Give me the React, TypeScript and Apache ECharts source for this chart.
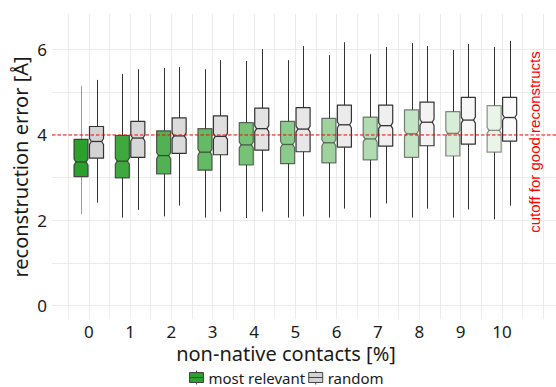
import React, { useEffect, useRef } from "react";
import * as echarts from "echarts";

// non-native contacts [%]
const categories = [0, 1, 2, 3, 4, 5, 6, 7, 8, 9, 10];

// [lower whisker, Q1, median, Q3, upper whisker]
const mostRelevant = [
  [2.14, 3.02, 3.36, 3.89, 5.14],
  [2.06, 2.99, 3.38, 3.98, 5.42],
  [2.09, 3.08, 3.51, 4.09, 5.56],
  [2.06, 3.17, 3.59, 4.14, 5.53],
  [2.05, 3.29, 3.76, 4.28, 5.72],
  [2.06, 3.32, 3.77, 4.31, 5.74],
  [2.06, 3.34, 3.81, 4.38, 5.86],
  [2.06, 3.41, 3.9, 4.41, 5.88],
  [2.06, 3.47, 4.02, 4.58, 6.14],
  [2.06, 3.5, 4.03, 4.54, 5.98],
  [2.02, 3.59, 4.1, 4.68, 6.05],
];

const random = [
  [2.41, 3.45, 3.84, 4.19, 5.28],
  [2.24, 3.47, 3.92, 4.31, 5.53],
  [2.34, 3.56, 3.97, 4.39, 5.58],
  [2.2, 3.53, 3.96, 4.44, 5.74],
  [2.2, 3.64, 4.14, 4.62, 6.0],
  [2.09, 3.6, 4.13, 4.63, 6.07],
  [2.27, 3.71, 4.23, 4.69, 6.16],
  [2.39, 3.73, 4.21, 4.69, 6.05],
  [2.27, 3.74, 4.29, 4.76, 6.07],
  [2.25, 3.78, 4.34, 4.87, 6.12],
  [2.34, 3.85, 4.4, 4.87, 6.19],
];

const cutoff = 4;
const yTickLabels = [0, 2, 4, 6];
const yGridValues = [0, 1, 2, 3, 4, 5, 6];
const seriesNames = ["most relevant", "random"];
const cutoffLabel = "cutoff for good reconstructs";
const xTitle = "non-native contacts [%]";
const yTitle = "reconstruction error [Å]";

const GREEN = [44, 160, 44];
const GRAY = [211, 211, 211];
const FONT = '"Noto Sans", sans-serif';

export default function App() {
  const ref = useRef<HTMLDivElement>(null);

  useEffect(() => {
    document.body.style.margin = "0";
    const chart = echarts.init(ref.current!, null, { renderer: "svg" });

    const xGrid: number[] = [];
    for (let k = -1; k <= 22; k++) xGrid.push(k / 2);

    const makeRender = (side: number, base: number[], isGreen: boolean) =>
      (params: any, api: any) => {
        const i = params.dataIndex;
        const c = api.value(0) + side * 0.1875;
        const lo = api.value(1);
        const q1 = api.value(2);
        const med = api.value(3);
        const q3 = api.value(4);
        const hi = api.value(5);
        const xl = api.coord([c - 0.17, med])[0];
        const xr = api.coord([c + 0.17, med])[0];
        const xc = Math.round(api.coord([c, med])[0]) + 0.5;
        const y = (v: number) => api.coord([c, v])[1];
        const yMed = y(med);
        const yN1 = y(med + 0.07);
        const yN2 = y(med - 0.07);
        const yQ1 = y(q1);
        const yQ3 = y(q3);
        const ins = 1.8;
        const alpha = 1 - 0.09 * i;
        const fill = `rgba(${base[0]},${base[1]},${base[2]},${alpha})`;
        const stroke = isGreen
          ? `rgba(51,51,51,${0.85 - 0.03 * i})`
          : "#333333";
        const whisk = isGreen && i === 0 ? "#9a9a9a" : "#333333";
        return {
          type: "group",
          children: [
            {
              type: "line",
              shape: { x1: xc, y1: y(hi), x2: xc, y2: yQ3 },
              style: { stroke: whisk, lineWidth: 1 },
            },
            {
              type: "line",
              shape: { x1: xc, y1: yQ1, x2: xc, y2: y(lo) },
              style: { stroke: whisk, lineWidth: 1 },
            },
            {
              type: "polygon",
              shape: {
                points: [
                  [xl, yQ3],
                  [xr, yQ3],
                  [xr, yN1],
                  [xr - ins, yMed],
                  [xr, yN2],
                  [xr, yQ1],
                  [xl, yQ1],
                  [xl, yN2],
                  [xl + ins, yMed],
                  [xl, yN1],
                ],
              },
              style: { fill, stroke, lineWidth: 1.2, lineJoin: "round" },
            },
            {
              type: "line",
              shape: { x1: xl + ins, y1: yMed, x2: xr - ins, y2: yMed },
              style: { stroke, lineWidth: 1.3 },
            },
          ],
        };
      };

    const greenData = categories.map((c, i) => [c, ...mostRelevant[i]]);
    const grayData = categories.map((c, i) => [c, ...random[i]]);

    const option: any = {
      animation: false,
      grid: { left: 52, right: 0, top: 14, bottom: 68 },
      xAxis: {
        type: "value",
        min: -0.89,
        max: 11.31,
        axisLine: { show: false },
        axisTick: { show: false, customValues: xGrid },
        axisLabel: {
          customValues: categories,
          fontSize: 17,
          lineHeight: 16,
          fontFamily: FONT,
          color: "#1a1a1a",
          margin: 4,
        },
        splitLine: { show: true, lineStyle: { color: "#ebebeb", width: 1 } },
      },
      yAxis: {
        type: "value",
        min: -0.31,
        max: 6.82,
        axisLine: { show: false },
        axisTick: { show: false, customValues: yGridValues },
        axisLabel: {
          customValues: yTickLabels,
          fontSize: 17,
          fontFamily: FONT,
          color: "#1a1a1a",
          margin: 5,
        },
        splitLine: { show: true, lineStyle: { color: "#ebebeb", width: 1 } },
      },
      legend: {
        data: [
          { name: seriesNames[0], itemStyle: { color: "rgb(44,160,44)" } },
          { name: seriesNames[1], itemStyle: { color: "rgb(211,211,211)" } },
        ],
        left: 189,
        top: 370,
        padding: 0,
        itemWidth: 14,
        itemHeight: 14,
        itemGap: 3,
        selectedMode: false,
        icon: "path://M0,2H14V12H0Z M7,0V2 M7,12V14 M0,7H14",
        itemStyle: { borderColor: "#444", borderWidth: 1 },
        textStyle: { fontSize: 15, lineHeight: 15, fontFamily: FONT, color: "#1a1a1a" },
      },
      series: [
        {
          name: seriesNames[0],
          type: "custom",
          z: 2,
          renderItem: makeRender(-1, GREEN, true),
          encode: { x: 0, y: [1, 2, 3, 4, 5] },
          itemStyle: { color: "rgb(44,160,44)", borderColor: "#444" },
          data: greenData,
        },
        {
          name: seriesNames[1],
          type: "custom",
          z: 2,
          renderItem: makeRender(1, GRAY, false),
          encode: { x: 0, y: [1, 2, 3, 4, 5] },
          itemStyle: { color: "rgb(211,211,211)", borderColor: "#444" },
          data: grayData,
        },
        {
          name: "cutoff",
          type: "line",
          data: [],
          z: 10,
          silent: true,
          markLine: {
            symbol: "none",
            silent: true,
            label: { show: false },
            lineStyle: { color: "rgba(255,0,0,0.65)", type: [3.5, 2], width: 1.5 },
            data: [{ yAxis: cutoff }],
          },
        },
      ],
      graphic: [
        {
          type: "text",
          x: 286,
          y: 353,
          style: {
            text: xTitle,
            font: `20px ${FONT}`,
            lineHeight: 18,
            fill: "#1a1a1a",
            align: "center",
            verticalAlign: "middle",
          },
        },
        {
          type: "text",
          x: 20,
          y: 167,
          rotation: Math.PI / 2,
          style: {
            text: yTitle,
            font: `20px ${FONT}`,
            fill: "#1a1a1a",
            align: "center",
            verticalAlign: "middle",
          },
        },
        {
          type: "text",
          x: 534,
          y: 142,
          rotation: Math.PI / 2,
          z: 20,
          style: {
            text: cutoffLabel,
            font: '15px "Liberation Sans", Arial, sans-serif',
            fill: "#ff0000",
            align: "center",
            verticalAlign: "middle",
          },
        },
      ],
    };

    chart.setOption(option);
    return () => chart.dispose();
  }, []);

  return <div ref={ref} style={{ width: 556, height: 387 }} />;
}
